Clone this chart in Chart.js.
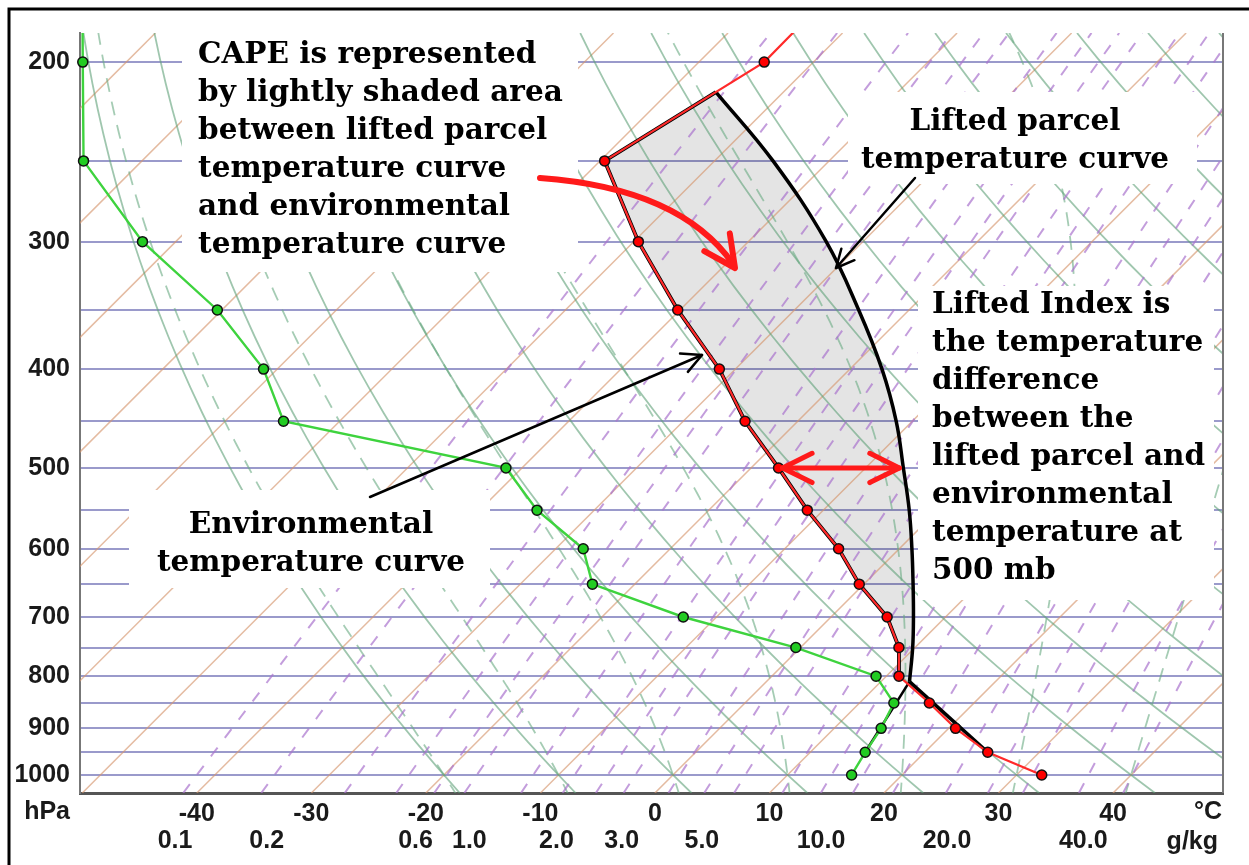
<!DOCTYPE html>
<html>
<head>
<meta charset="utf-8">
<script src="https://cdn.jsdelivr.net/npm/chart.js@4.4.1/dist/chart.umd.min.js"></script>
<style>
  html, body { margin: 0; padding: 0; background: #fff; }
  canvas { display: block; }
</style>
</head>
<body>
<canvas id="skewt" width="1249" height="865"></canvas>
<script>
// Sounding (hPa / °C)
const pressures = [1000, 950, 900, 850, 800, 750, 700, 650, 600, 550, 500, 450, 400, 350, 300, 250, 200, 150];
const tempEnv   = [32.2, 25.5, 20.6, 16.1, 11.1, 8.6, 4.9, -0.4, -5.3, -11.4, -17.6, -24.6, -31.4, -40.2, -49.6, -59.6, -54.3, -54.5];
const dewEnv    = [15.6, 14.8, 14.1, 13.0, 9.1, -0.4, -12.9, -23.7, -27.6, -35.0, -41.4, -64.9, -71.2, -80.4, -92.9, -105.1, -113.8, -125];

// Lifted parcel: dry from 950 hPa to the LCL (810 hPa), then moist
const parcelP = [950, 810, 750, 700, 650, 600, 550, 500, 450, 400, 350, 300, 250, 214];
const parcelT = [25.5, 12.5, 9.8, 7.2, 4.3, 1.1, -2.5, -6.7, -11.4, -17.2, -24.4, -33.2, -44.9, -55.9];
const parcelDewP = [950, 810];
const parcelDewT = [14.8, 12.5];

// Axis labels
const pressureLabels = [200, 300, 400, 500, 600, 700, 800, 900, 1000];
const isobarLevels = [200, 250, 300, 350, 400, 450, 500, 550, 600, 650, 700, 750, 800, 850, 900, 950, 1000];
const tempTicks = [-40, -30, -20, -10, 0, 10, 20, 30, 40];
const mixLabels = ['0.1', '0.2', '0.6', '1.0', '2.0', '3.0', '5.0', '10.0', '20.0', '40.0'];
const mixLabelAt = [-41.9, -33.9, -20.9, -16.2, -8.6, -2.9, 4.1, 14.5, 25.5, 37.4];

// Background lines of the diagram
const isotherms = [-120, -110, -100, -90, -80, -70, -60, -50, -40, -30, -20, -10, 0, 10, 20, 30, 40];
const dryAdiabats = [-20, -10, 0, 10, 20, 30, 40, 50, 60, 70, 80, 90, 100, 110, 120, 130, 140];
const moistAdiabats = [-20, -10, 0, 10, 20, 30, 40];
const mixingRatios = [0.1, 0.2, 0.4, 0.6, 0.8, 1, 1.5, 2, 2.5, 3, 4, 5, 6, 8, 10, 12, 15, 20, 25, 30, 40, 50];

const pBottom = 1041.5, pTop = 187.3;
const SKEW = 38.69; // °C of x-axis per unit of ln(p)

function skewX(t, p) { return t + SKEW * Math.log(pBottom / p); }
function pSteps(n) {
  const out = [];
  for (let i = 0; i <= n; i++) out.push(pBottom * Math.pow(pTop / pBottom, i / n));
  return out;
}

function dTdp(T, p) {
  const es = 6.112 * Math.exp(17.67 * (T - 273.15) / (T - 29.65));
  const rs = 0.622 * es / (p - es);
  return (287.04 * T + 2.501e6 * rs) / (p * (1005.7 + 2.501e6 * 2.501e6 * rs * 0.622 / (287.04 * T * T)));
}
function moistPoints(tw) {
  const step = 5;
  const up = [], down = [];
  let T = tw + 273.15, p = 1000;
  while (p > pTop - step) {
    up.push({ x: skewX(T - 273.15, p), y: p });
    const k1 = dTdp(T, p);
    const k2 = dTdp(T - step / 2 * k1, p - step / 2);
    T -= step * k2; p -= step;
  }
  T = tw + 273.15; p = 1000;
  while (p < pBottom + step) {
    const k1 = dTdp(T, p);
    const k2 = dTdp(T + step / 2 * k1, p + step / 2);
    T += step * k2; p += step;
    down.push({ x: skewX(T - 273.15, p), y: p });
  }
  return down.reverse().concat(up);
}
function dewFromMix(w, p) {
  const e = w * p / (622 + w);
  const l = Math.log(e / 6.112);
  return 243.5 * l / (17.67 - l);
}

function bgLine(data, color, width, dash, order) {
  return {
    data, borderColor: color, borderWidth: width, borderDash: dash || [],
    pointRadius: 0, showLine: true, order, clip: 0, tension: 0
  };
}

const datasets = [];
const clipData = { left: 8, right: 0, top: 0, bottom: 8 };

datasets.push({
  label: 'Environmental temperature',
  data: pressures.map((p, i) => ({ x: skewX(tempEnv[i], p), y: p })),
  borderColor: '#ff2a2a', borderWidth: 2.2, showLine: true,
  pointRadius: 5, pointBackgroundColor: '#ff0000', pointBorderColor: '#111', pointBorderWidth: 1.5,
  order: 1, clip: clipData
});
datasets.push({
  label: 'Dewpoint',
  data: pressures.map((p, i) => ({ x: skewX(dewEnv[i], p), y: p })),
  borderColor: '#3ed33e', borderWidth: 2.4, showLine: true,
  pointRadius: 5, pointBackgroundColor: '#22cc22', pointBorderColor: '#111', pointBorderWidth: 1.5,
  order: 2, clip: clipData
});
datasets.push({
  label: 'Parcel moist',
  data: parcelP.slice(1).map((p, i) => ({ x: skewX(parcelT[i + 1], p), y: p })),
  borderColor: '#000', borderWidth: 3.5, showLine: true, pointRadius: 0,
  tension: 0.4, order: 3, clip: 0
});
datasets.push({
  label: 'Parcel dry',
  data: parcelP.slice(0, 2).map((p, i) => ({ x: skewX(parcelT[i], p), y: p })),
  borderColor: '#000', borderWidth: 3.5, showLine: true, pointRadius: 0,
  order: 3, clip: 0
});
// black edge of the CAPE area along the environmental curve
const topIdx = parcelP.length - 1;
datasets.push({
  label: 'CAPE edge',
  data: [{ x: skewX(parcelT[topIdx], parcelP[topIdx]), y: parcelP[topIdx] }].concat(
    pressures.map((p, i) => ({ p, t: tempEnv[i] }))
      .filter(d => d.p <= 800 && d.p >= 250)
      .reverse()
      .map(d => ({ x: skewX(d.t, d.p), y: d.p }))),
  borderColor: '#000', borderWidth: 3.8, showLine: true, pointRadius: 0,
  order: 3.5, clip: 0
});
datasets.push({
  label: 'Parcel dewpoint',
  data: parcelDewP.map((p, i) => ({ x: skewX(parcelDewT[i], p), y: p })),
  borderColor: '#000', borderWidth: 2.5, showLine: true, pointRadius: 0,
  order: 4, clip: 0
});
const MOIST = 2, EDGE = 4;

// diagram lines
isotherms.forEach(t => datasets.push(bgLine(
  [{ x: skewX(t, pBottom), y: pBottom }, { x: skewX(t, pTop), y: pTop }],
  'rgba(214,150,110,0.65)', 1.5, null, 50)));
dryAdiabats.forEach(th => datasets.push(bgLine(
  pSteps(30).map(p => ({ x: skewX((th + 273.15) * Math.pow(p / 1000, 0.2857) - 273.15, p), y: p })),
  'rgba(95,160,120,0.6)', 1.8, null, 49)));
moistAdiabats.forEach(tw => datasets.push(bgLine(
  moistPoints(tw), 'rgba(105,170,130,0.6)', 1.8, [14, 10], 48)));
mixingRatios.forEach(w => datasets.push(bgLine(
  pSteps(20).map(p => ({ x: skewX(dewFromMix(w, p), p), y: p })),
  'rgba(170,115,205,0.7)', 2, [11, 12], 47)));

// annotation layout (pixels)
const boxes = [
  { x: 182, y: 26, w: 396, h: 246 },
  { x: 848, y: 92, w: 349, h: 92 },
  { x: 918, y: 286, w: 296, h: 314 },
  { x: 129, y: 490, w: 361, h: 98 }
];
const notes = [
  { x: 198, y: 55, align: 'left', lines: ['CAPE is represented', 'by lightly shaded area', 'between lifted parcel', 'temperature curve', 'and environmental', 'temperature curve'] },
  { x: 1015, y: 122, align: 'center', lines: ['Lifted parcel', 'temperature curve'] },
  { x: 932, y: 305, align: 'left', lines: ['Lifted Index is', 'the temperature', 'difference', 'between the', 'lifted parcel and', 'environmental', 'temperature at', '500 mb'] },
  { x: 311, y: 525, align: 'center', lines: ['Environmental', 'temperature curve'] }
];

function head(ctx, tx, ty, ang, len, spread) {
  ctx.beginPath();
  ctx.moveTo(tx - len * Math.cos(ang - spread), ty - len * Math.sin(ang - spread));
  ctx.lineTo(tx, ty);
  ctx.lineTo(tx - len * Math.cos(ang + spread), ty - len * Math.sin(ang + spread));
  ctx.stroke();
}

const overlay = {
  id: 'overlay',
  beforeDatasetsDraw(chart) {
    // light grey CAPE shading, under the diagram lines
    const ctx = chart.ctx;
    const up = chart.getDatasetMeta(MOIST).data;
    const back = chart.getDatasetMeta(EDGE).data;
    ctx.save();
    ctx.beginPath();
    ctx.moveTo(up[0].x, up[0].y);
    for (let i = 1; i < up.length; i++) {
      const a = up[i - 1], b = up[i];
      if (a.cp2x !== undefined && b.cp1x !== undefined) ctx.bezierCurveTo(a.cp2x, a.cp2y, b.cp1x, b.cp1y, b.x, b.y);
      else ctx.lineTo(b.x, b.y);
    }
    for (let i = 1; i < back.length; i++) ctx.lineTo(back[i].x, back[i].y);
    ctx.closePath();
    ctx.fillStyle = 'rgba(0,0,0,0.105)';
    ctx.fill();
    ctx.restore();
  },
  afterDatasetsDraw(chart) {
    const ctx = chart.ctx, a = chart.chartArea;
    const xs = chart.scales.x, ys = chart.scales.y;
    ctx.save();
    ctx.strokeStyle = '#777';
    ctx.lineWidth = 2;
    ctx.beginPath(); ctx.moveTo(a.right, a.top); ctx.lineTo(a.right, a.bottom); ctx.stroke();

    ctx.fillStyle = '#fff';
    boxes.forEach(b => ctx.fillRect(b.x, b.y, b.w, b.h));

    ctx.lineCap = 'round';
    ctx.lineJoin = 'round';
    // curved red arrow into the CAPE area
    ctx.strokeStyle = '#ff1a1a';
    ctx.lineWidth = 6;
    ctx.beginPath(); ctx.moveTo(540, 178); ctx.quadraticCurveTo(680, 188, 733, 264); ctx.stroke();
    head(ctx, 735, 268, Math.atan2(76, 53), 35, 0.46);

    // Lifted index at 500 hPa
    const i500 = pressures.indexOf(500), j500 = parcelP.indexOf(500);
    const y5 = ys.getPixelForValue(500);
    const xl = xs.getPixelForValue(skewX(tempEnv[i500], 500)) + 4;
    const xr = xs.getPixelForValue(skewX(parcelT[j500], 500)) - 4;
    ctx.lineWidth = 5;
    ctx.beginPath(); ctx.moveTo(xl, y5); ctx.lineTo(xr, y5); ctx.stroke();
    head(ctx, xl, y5, Math.PI, 33, 0.46);
    head(ctx, xr, y5, 0, 33, 0.46);

    // black pointers
    ctx.strokeStyle = '#000';
    ctx.lineWidth = 2.5;
    ctx.beginPath(); ctx.moveTo(915, 178); ctx.lineTo(836, 268); ctx.stroke();
    head(ctx, 836, 268, Math.atan2(90, -79), 20, 0.45);
    ctx.beginPath(); ctx.moveTo(370, 497); ctx.lineTo(702, 355); ctx.stroke();
    head(ctx, 702, 355, Math.atan2(-142, 332), 22, 0.47);

    ctx.fillStyle = '#000';
    ctx.font = 'bold 29.5px "DejaVu Serif"';
    ctx.textBaseline = 'middle';
    notes.forEach(n => {
      ctx.textAlign = n.align;
      n.lines.forEach((s, k) => ctx.fillText(s, n.x, n.y + k * 38));
    });
    ctx.restore();
  },
  afterDraw(chart) {
    const ctx = chart.ctx, xs = chart.scales.x;
    ctx.save();
    ctx.fillStyle = '#1a1a1a';
    ctx.font = 'bold 25px "Liberation Sans", Arial, sans-serif';
    ctx.textBaseline = 'middle';
    ctx.textAlign = 'right';
    ctx.fillText('hPa', 70, 812);
    ctx.fillText('°C', 1222, 812);
    ctx.fillText('g/kg', 1218, 842);
    ctx.textAlign = 'center';
    mixLabels.forEach((s, i) => ctx.fillText(s, xs.getPixelForValue(mixLabelAt[i]), 841));
    ctx.strokeStyle = '#000';
    ctx.lineWidth = 3;
    ctx.beginPath(); ctx.moveTo(9, 870); ctx.lineTo(9, 9); ctx.lineTo(1249, 9); ctx.stroke();
    ctx.restore();
  }
};

new Chart(document.getElementById('skewt'), {
  type: 'scatter',
  data: { datasets },
  options: {
    responsive: false,
    devicePixelRatio: 1,
    animation: false,
    events: [],
    layout: { padding: { top: 33, right: 26, left: 0, bottom: 0 } },
    plugins: { legend: { display: false }, tooltip: { enabled: false } },
    scales: {
      x: {
        type: 'linear', min: -50.2, max: 49.6,
        afterBuildTicks: s => { s.ticks = tempTicks.map(v => ({ value: v })); },
        afterFit: s => { s.height = 72; },
        grid: { display: false, drawTicks: false },
        border: { display: true, color: '#555', width: 3 },
        ticks: { autoSkip: false, maxRotation: 0, padding: 6, color: '#1a1a1a',
                 font: { family: '"Liberation Sans", Arial, sans-serif', size: 25, weight: 'bold' } }
      },
      y: {
        type: 'logarithmic', reverse: true, min: pTop, max: pBottom,
        afterBuildTicks: s => { s.ticks = isobarLevels.map(v => ({ value: v })); },
        afterFit: s => { s.width = 80; },
        grid: { color: 'rgba(120,120,185,0.75)', lineWidth: 2, drawTicks: false },
        border: { display: true, color: '#777', width: 2 },
        ticks: {
          autoSkip: false, padding: 10, color: '#1a1a1a',
          font: { family: '"Liberation Sans", Arial, sans-serif', size: 25, weight: 'bold' },
          callback: v => pressureLabels.includes(v) ? String(v) : ''
        }
      }
    }
  },
  plugins: [overlay]
});
</script>
</body>
</html>
